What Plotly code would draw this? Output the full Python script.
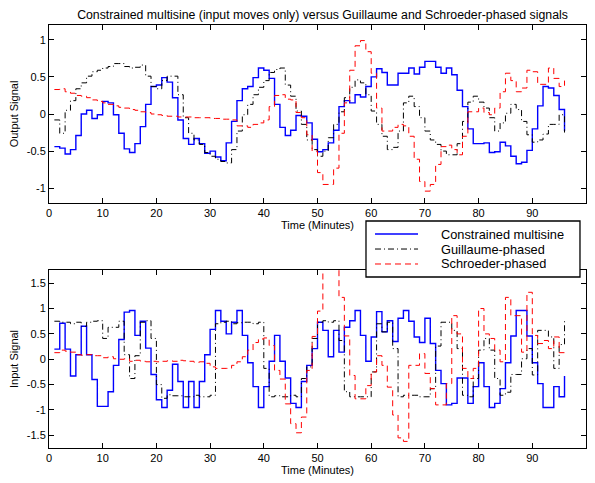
import plotly.graph_objects as go

# time axis, one sample per minute
minutes = list(range(1, 97))

# output signals (top panel)
out_constrained = [-0.44, -0.46, -0.54, -0.48, -0.29, 0.00, 0.05, -0.06, -0.01, 0.17,
                   0.15, -0.01, -0.26, -0.47, -0.52, -0.40, -0.17, 0.13, 0.37, 0.39,
                   0.49, 0.43, 0.22, -0.08, -0.33, -0.41, -0.33, -0.40, -0.53, -0.50,
                   -0.58, -0.63, -0.39, -0.10, 0.18, 0.34, 0.37, 0.49, 0.62, 0.59,
                   0.48, 0.13, -0.18, -0.29, -0.22, -0.02, -0.03, -0.12, -0.34, -0.51,
                   -0.48, -0.39, -0.22, 0.10, 0.18, 0.15, 0.26, 0.23, 0.37, 0.50,
                   0.61, 0.56, 0.39, 0.39, 0.55, 0.55, 0.62, 0.54, 0.63, 0.71,
                   0.71, 0.63, 0.55, 0.62, 0.53, 0.32, 0.10, -0.20, -0.40, -0.40,
                   -0.39, -0.52, -0.51, -0.38, -0.43, -0.57, -0.67, -0.65, -0.49, -0.20,
                   0.11, 0.37, 0.35, 0.25, 0.06, -0.23]

out_guillaume = [-0.08, -0.26, 0.05, 0.18, 0.34, 0.42, 0.51, 0.57, 0.59, 0.62,
                 0.64, 0.68, 0.68, 0.64, 0.62, 0.63, 0.66, 0.51, 0.37, 0.34,
                 0.45, 0.51, 0.51, 0.26, -0.05, -0.26, -0.35, -0.41, -0.52, -0.57,
                 -0.61, -0.64, -0.66, -0.48, -0.23, -0.01, 0.13, 0.26, 0.36, 0.45,
                 0.56, 0.60, 0.62, 0.39, 0.24, 0.04, -0.14, -0.35, -0.48, -0.57,
                 -0.50, -0.32, -0.14, 0.03, 0.22, 0.36, 0.46, 0.42, 0.26, 0.04,
                 -0.14, -0.30, -0.48, -0.45, -0.23, 0.15, 0.24, 0.10, -0.05, -0.23,
                 -0.35, -0.41, -0.50, -0.55, -0.55, -0.40, -0.10, 0.16, 0.24, 0.16,
                 0.08, -0.05, -0.23, -0.12, 0.01, 0.13, 0.06, -0.10, -0.28, -0.38,
                 -0.35, -0.27, -0.14, -0.14, -0.01, -0.25]

out_schroeder = [0.33, 0.34, 0.30, 0.28, 0.25, 0.24, 0.22, 0.19, 0.17, 0.15,
                 0.13, 0.11, 0.09, 0.08, 0.06, 0.05, 0.03, 0.02, 0.00, -0.01,
                 -0.02, -0.03, -0.03, -0.04, -0.04, -0.04, -0.05, -0.05, -0.05, -0.06,
                 -0.06, -0.07, -0.07, -0.08, -0.16, -0.16, -0.18, -0.14, -0.12, -0.08,
                 0.10, 0.25, 0.26, 0.20, 0.19, 0.02, -0.05, -0.28, -0.50, -0.79,
                 -0.95, -0.95, -0.73, -0.26, 0.15, 0.59, 0.92, 0.99, 0.84, 0.55,
                 0.08, -0.23, -0.23, -0.18, -0.14, -0.16, -0.30, -0.61, -0.91, -1.04,
                 -0.95, -0.68, -0.44, -0.42, -0.48, -0.55, -0.30, 0.03, 0.03, 0.08,
                 0.02, -0.01, 0.08, 0.30, 0.55, 0.45, 0.30, 0.35, 0.59, 0.57,
                 0.40, 0.40, 0.62, 0.48, 0.37, 0.45]

# input signals (bottom panel)
in_constrained = [0.20, 0.71, 0.20, -0.33, 0.09, 0.65, 0.09, -0.40, -0.93, -0.93,
                  -0.64, -0.12, 0.39, 0.93, 0.96, 0.47, 0.75, 0.22, -0.30, -0.80,
                  -0.95, -0.61, -0.10, -0.44, -0.95, -0.44, -0.95, -0.44, 0.09, 0.59,
                  0.96, 0.75, 0.50, 0.73, 0.96, 0.47, -0.07, -0.54, -0.95, -0.54,
                  -0.04, 0.47, -0.04, -0.37, -0.87, -0.95, -0.44, -0.12, 0.21, 0.73,
                  0.57, 0.05, 0.57, 0.14, 0.63, 0.76, 0.96, 0.47, -0.04, 0.44,
                  0.94, 0.54, 0.76, 0.35, 0.81, 0.96, 0.75, 0.44, 0.33, 0.81,
                  0.31, -0.22, -0.48, -0.90, -0.87, -0.37, -0.37, -0.87, -0.54, -0.07,
                  -0.54, -0.95, -0.87, -0.58, -0.07, 0.46, 0.96, 0.96, 0.46, -0.07,
                  -0.48, -0.95, -0.95, -0.54, -0.74, -0.33]

in_guillaume = [0.75, 0.73, 0.73, 0.70, 0.73, 0.65, 0.73, 0.75, 0.76, 0.41,
                0.63, 0.63, 0.75, 0.09, -0.38, 0.07, 0.73, 0.76, 0.41, -0.50,
                -0.77, -0.70, -0.72, -0.72, -0.74, -0.74, -0.71, -0.74, -0.74, -0.71,
                0.70, 0.73, 0.75, 0.70, 0.72, 0.73, 0.73, 0.70, 0.73, -0.18,
                -0.74, -0.72, -0.74, -0.74, -0.71, -0.74, -0.38, -0.15, 0.41, 0.73,
                0.76, 0.73, 0.76, 0.37, -0.64, -0.74, -0.74, -0.74, -0.74, -0.25,
                0.70, 0.54, 0.73, 0.21, -0.74, -0.71, -0.71, -0.71, -0.74, -0.74,
                -0.58, 0.26, 0.73, 0.73, 0.57, 0.21, -0.71, -0.74, -0.38, 0.18,
                0.41, 0.18, -0.38, -0.71, -0.65, -0.30, -0.30, 0.01, 0.21, -0.31,
                0.57, 0.57, 0.44, -0.18, 0.29, 0.75]

in_schroeder = [0.13, 0.18, 0.16, 0.14, 0.09, 0.08, 0.09, 0.07, 0.07, 0.03,
                0.05, 0.01, 0.00, 0.01, -0.04, -0.02, -0.04, -0.05, -0.04, -0.05,
                -0.04, -0.03, -0.04, -0.02, -0.03, -0.04, -0.06, -0.05, -0.08, -0.15,
                -0.18, -0.18, -0.18, -0.12, -0.05, 0.05, 0.18, 0.33, 0.40, 0.42,
                0.27, -0.22, -0.39, -0.88, -1.27, -1.45, -1.14, -0.22, 0.45, 0.95,
                1.90, 1.90, 1.90, 1.22, 0.46, -0.32, -0.78, -0.78, -0.52, -0.25,
                0.07, -0.12, -0.55, -1.10, -1.55, -1.62, -0.12, -0.12, 0.11, -0.28,
                -0.58, -0.90, -0.90, -0.48, 0.86, 0.50, -0.18, -0.38, -0.18, 1.00,
                0.50, 0.41, 0.18, -0.05, 1.22, 0.86, 0.86, 0.14, 1.32, 0.47,
                0.31, 0.37, 0.21, 0.44, 0.13, 0.13]

x_ticks = list(range(0, 101, 10))
top_ticks = [-1, -0.5, 0, 0.5, 1]
top_labels = ['-1', '-0.5', '0', '0.5', '1']
bot_ticks = [-1.5, -1, -0.5, 0, 0.5, 1, 1.5]
bot_labels = ['-1.5', '-1', '-0.5', '0', '0.5', '1', '1.5']

names = ['Constrained multisine', 'Guillaume-phased', 'Schroeder-phased']
colors = ['#0000ff', '#000000', '#ff0000']
dashes = ['solid', '6px,3px,1px,3px', '6px,4px']
widths = [1.4, 1, 1]

fig = go.Figure()

for ys, c, d, w, nm in zip([out_constrained, out_guillaume, out_schroeder], colors, dashes, widths, names):
    fig.add_trace(go.Scatter(x=minutes, y=ys, mode='lines', line=dict(color=c, dash=d, width=w),
                             line_shape='hv', name=nm, xaxis='x', yaxis='y', showlegend=False))

for ys, c, d, w, nm in zip([in_constrained, in_guillaume, in_schroeder], colors, dashes, widths, names):
    fig.add_trace(go.Scatter(x=minutes, y=ys, mode='lines', line=dict(color=c, dash=d, width=w),
                             line_shape='hv', name=nm, xaxis='x2', yaxis='y2', showlegend=False))

# legend box drawn on top of the lower axes (matlab style)
fig.add_shape(type='rect', xref='paper', yref='paper', x0=0.5903, x1=0.9888, y0=0.4043, y1=0.5366,
              line=dict(color='black', width=1.3), fillcolor='white', layer='above')
leg_y = [0.5059, 0.4704, 0.4350]
for ly, c, d, w, nm in zip(leg_y, colors, dashes, widths, names):
    fig.add_shape(type='line', xref='paper', yref='paper', x0=0.6071, x1=0.6872, y0=ly, y1=ly,
                  line=dict(color=c, dash=d, width=w), layer='above')
    fig.add_annotation(text=nm, xref='paper', yref='paper', x=0.729, y=ly, xanchor='left',
                       yanchor='middle', showarrow=False, borderpad=0, height=13,
                       font=dict(size=12.8, color='black'))

ax_common = dict(showline=True, linecolor='black', linewidth=1, mirror='ticks',
                 ticks='inside', ticklen=5, tickcolor='black', showgrid=False,
                 zeroline=False, automargin=False, tickfont=dict(size=11, color='black'))

# page has an 8px body margin, so the figure is shrunk and shifted by 8px
fig.update_layout(
    width=587, height=475,
    margin=dict(l=41, r=9, t=17, b=35),
    paper_bgcolor='white', plot_bgcolor='white',
    font=dict(family='Liberation Sans, Arial, sans-serif', size=11, color='black'),
    title=dict(text='Constrained multisine (input moves only) versus Guillaume and Schroeder-phased signals',
               x=0.5358, xanchor='center', y=0.995, yanchor='top', pad=dict(t=0, b=0),
               font=dict(size=12.3, color='black')),
    xaxis=dict(domain=[0, 1], range=[0, 100], tickvals=x_ticks, anchor='y',
               title=dict(text='Time (Minutes)', standoff=2, font=dict(size=11)), **ax_common),
    yaxis=dict(domain=[0.5792, 1], range=[-1.2, 1.2], tickvals=top_ticks, ticktext=top_labels,
               anchor='x', title=dict(text='Output Signal', standoff=5, font=dict(size=11)), **ax_common),
    xaxis2=dict(domain=[0, 1], range=[0, 100], tickvals=x_ticks, anchor='y2',
                title=dict(text='Time (Minutes)', standoff=2, font=dict(size=11)), **ax_common),
    yaxis2=dict(domain=[0, 0.4208], range=[-1.75, 1.76], tickvals=bot_ticks, ticktext=bot_labels,
                anchor='x2', title=dict(text='Input Signal', standoff=5, font=dict(size=11)), **ax_common),
    showlegend=False,
)

fig.write_html('out.html')
